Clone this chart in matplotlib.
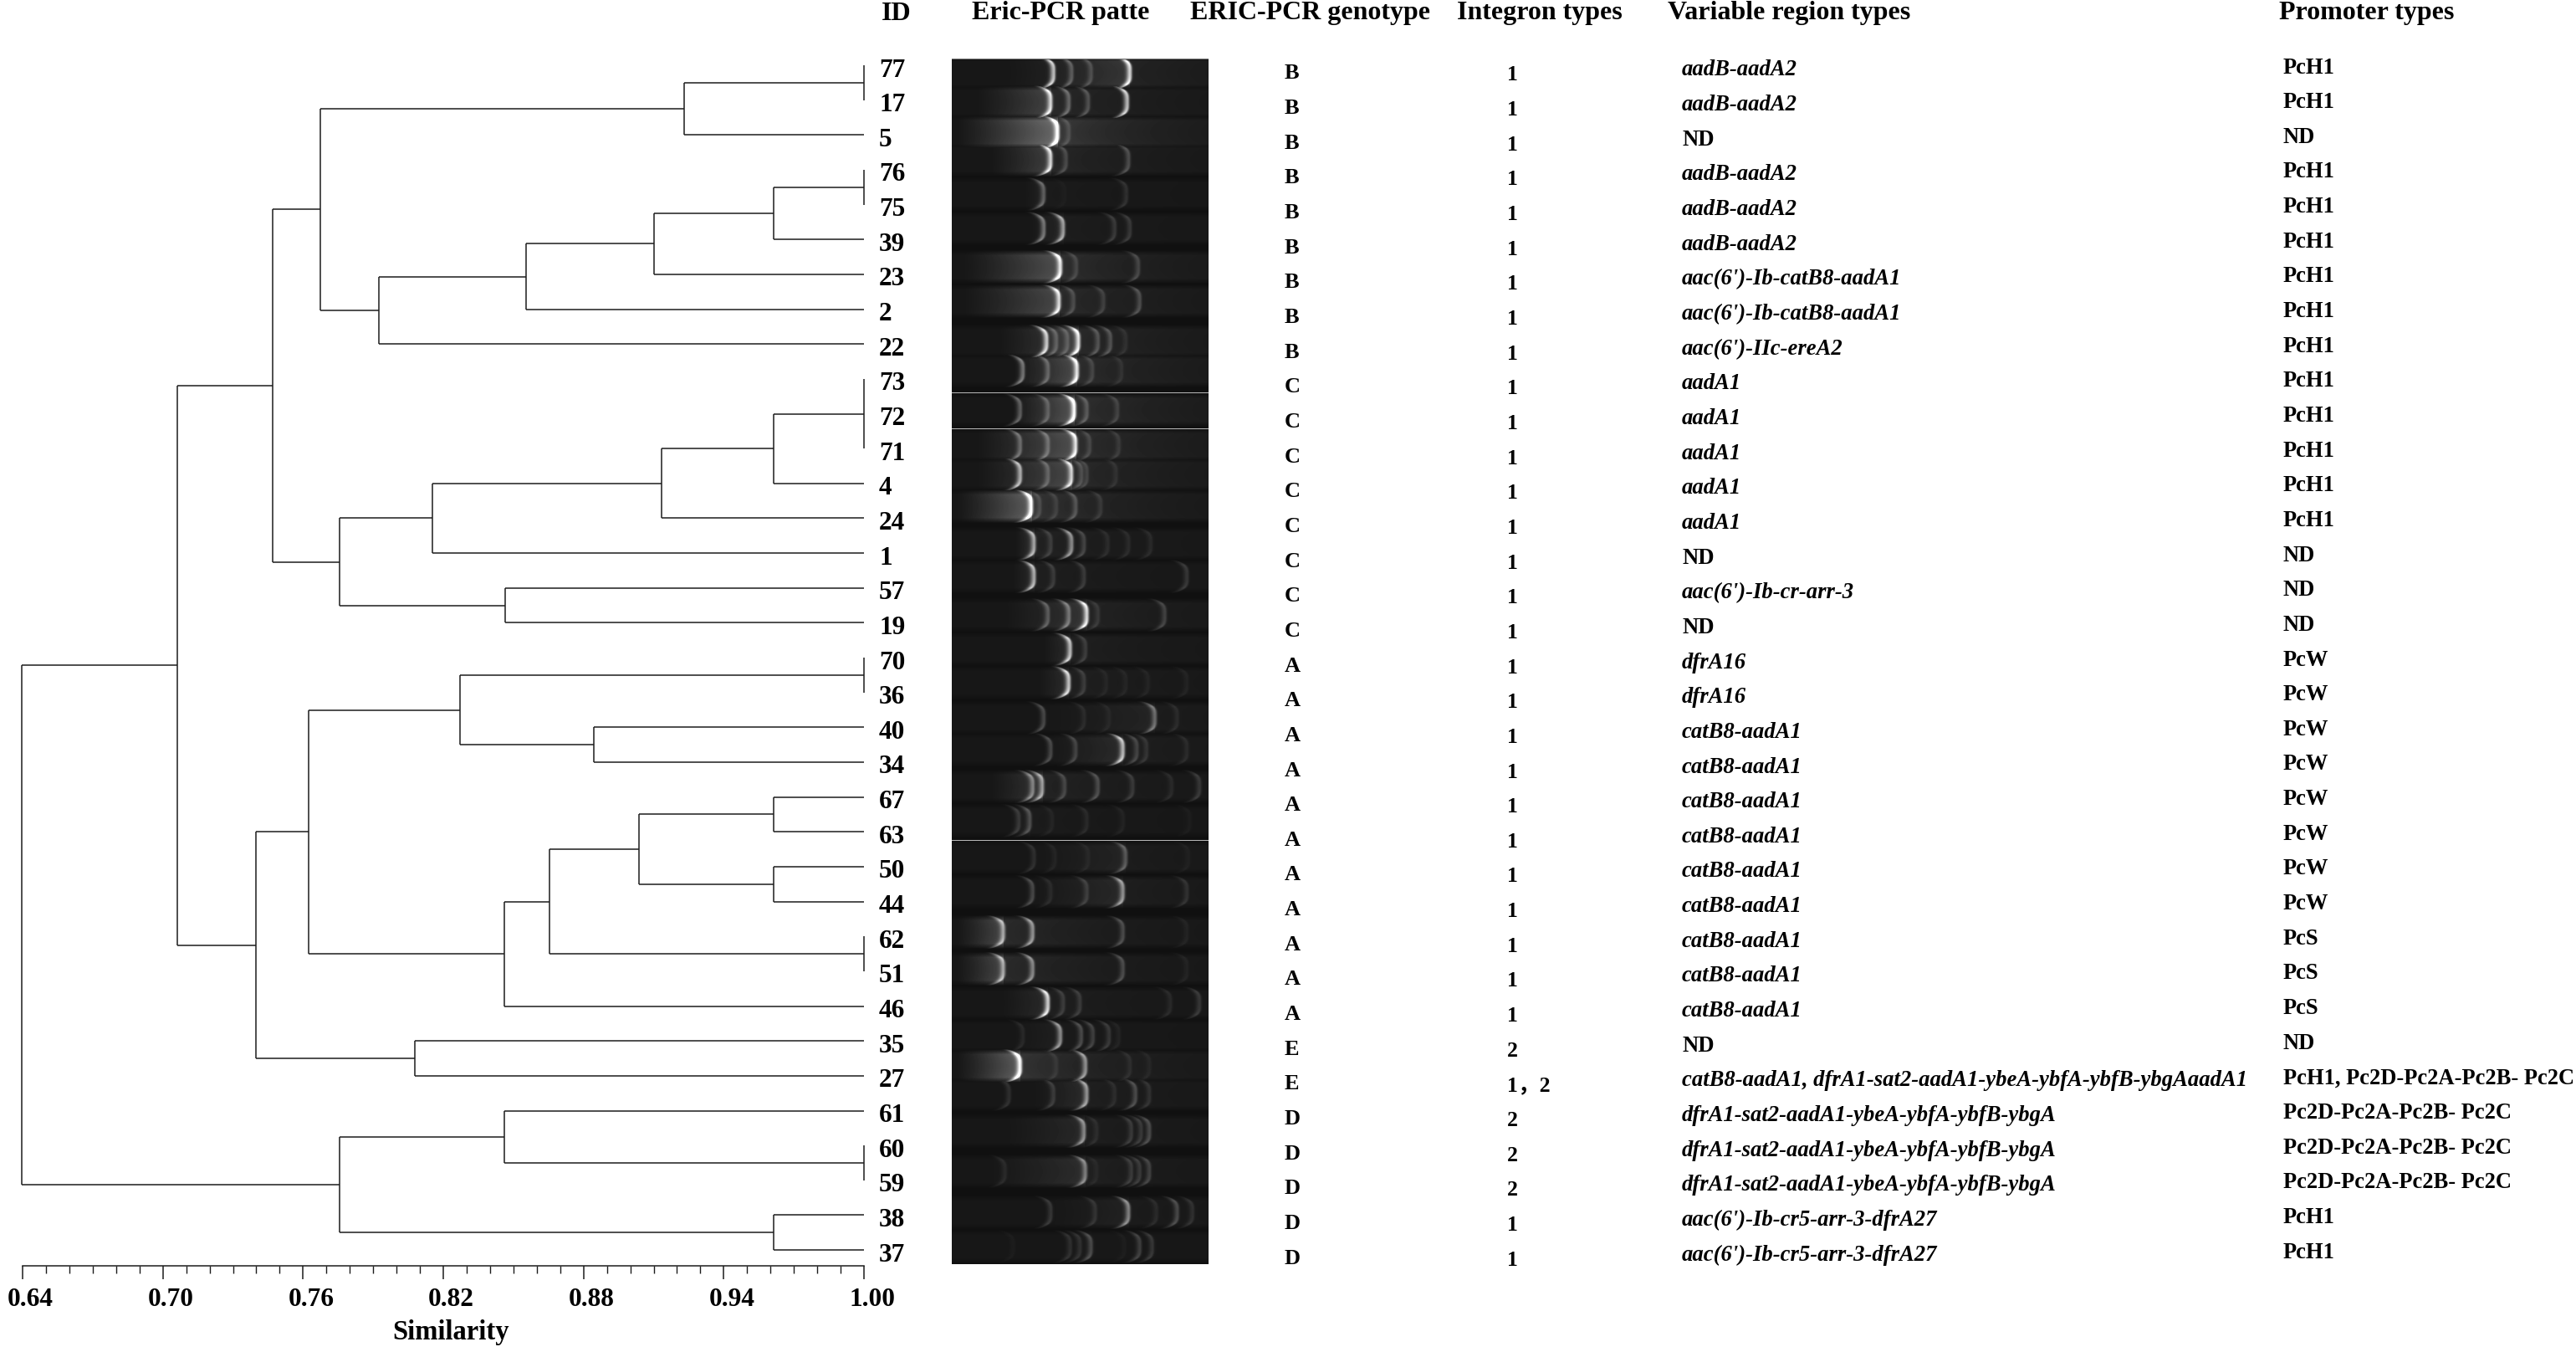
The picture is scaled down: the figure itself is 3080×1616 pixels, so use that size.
import matplotlib
matplotlib.use('Agg')
import matplotlib.pyplot as plt
import numpy as np
from matplotlib.transforms import ScaledTranslation

plt.rcParams['font.family'] = ['Liberation Serif', 'Noto Sans CJK SC']
plt.rcParams['font.weight'] = 'bold'

W, H = 3080, 1616

# rows of the table, top to bottom
ids = ['77', '17', '5', '76', '75', '39', '23', '2', '22', '73', '72', '71', '4', '24', '1', '57', '19',
       '70', '36', '40', '34', '67', '63', '50', '44', '62', '51', '46', '35', '27', '61', '60', '59', '38', '37']
genotypes = list('BBBBBBBBB') + list('CCCCCCCC') + list('AAAAAAAAAAA') + list('EE') + list('DDDDD')
integrons = ['1'] * 28 + ['2', '1，2', '2', '2', '2', '1', '1']
cat = 'catB8-aadA1'
dfr = 'dfrA1-sat2-aadA1-ybeA-ybfA-ybfB-ybgA'
variable = ['aadB-aadA2', 'aadB-aadA2', 'ND', 'aadB-aadA2', 'aadB-aadA2', 'aadB-aadA2',
            "aac(6')-Ib-catB8-aadA1", "aac(6')-Ib-catB8-aadA1", "aac(6')-IIc-ereA2",
            'aadA1', 'aadA1', 'aadA1', 'aadA1', 'aadA1', 'ND', "aac(6')-Ib-cr-arr-3", 'ND',
            'dfrA16', 'dfrA16', cat, cat, cat, cat, cat, cat, cat, cat, cat, 'ND',
            'catB8-aadA1, dfrA1-sat2-aadA1-ybeA-ybfA-ybfB-ybgAaadA1', dfr, dfr, dfr,
            "aac(6')-Ib-cr5-arr-3-dfrA27", "aac(6')-Ib-cr5-arr-3-dfrA27"]
pc2 = 'Pc2D-Pc2A-Pc2B- Pc2C'
promoters = ['PcH1', 'PcH1', 'ND', 'PcH1', 'PcH1', 'PcH1', 'PcH1', 'PcH1', 'PcH1',
             'PcH1', 'PcH1', 'PcH1', 'PcH1', 'PcH1', 'ND', 'ND', 'ND',
             'PcW', 'PcW', 'PcW', 'PcW', 'PcW', 'PcW', 'PcW', 'PcW', 'PcS', 'PcS', 'PcS', 'ND',
             'PcH1, ' + pc2, pc2, pc2, pc2, 'PcH1', 'PcH1']
headers = ['ID', 'Eric-PCR patte', 'ERIC-PCR genotype', 'Integron types', 'Variable region types', 'Promoter types']

# dendrogram merges: children are leaf rows (int) or earlier merges ('n3'), with similarity of the join
merge_children = [
    [0, 1], ['n0', 2],
    [3, 4], ['n2', 5], ['n3', 6], ['n4', 7], ['n5', 8], ['n1', 'n6'],
    [9, 11], ['n8', 12], ['n9', 13], ['n10', 14], [15, 16], ['n11', 'n12'], ['n7', 'n13'],
    [17, 18], [19, 20], ['n15', 'n16'],
    [21, 22], [23, 24], ['n18', 'n19'], [25, 26], ['n20', 'n21'], ['n22', 27], ['n17', 'n23'],
    [28, 29], ['n24', 'n25'], ['n14', 'n26'],
    [31, 32], [30, 'n28'], [33, 34], ['n29', 'n30'], ['n27', 'n31'],
]
merge_sim = [
    1.0, 0.9229,
    1.0, 0.9613, 0.9101, 0.8556, 0.7924, 0.7673,
    1.0, 0.9613, 0.9134, 0.8155, 0.8464, 0.7758, 0.7469,
    1.0, 0.8845, 0.8270,
    0.9613, 0.9613, 0.9036, 1.0, 0.8654, 0.8461, 0.7625,
    0.8077, 0.7399, 0.7063,
    1.0, 0.8461, 0.9613, 0.7758, 0.6395,
]

# gel lanes: band position along the lane and brightness
lane_bands = [
    [(480, .9), (545, .45), (615, .35), (755, .95)],
    [(470, .9), (535, .5), (605, .4), (745, .9)],
    [(495, 1.0), (535, .3)],
    [(470, .9), (525, .35), (750, .4)],
    [(445, .5), (520, .08), (742, .25)],
    [(445, .6), (515, .75), (700, .3), (755, .3)],
    [(505, .95), (562, .3), (785, .35)],
    [(500, .9), (552, .35), (660, .3), (790, .4)],
    [(455, .9), (490, .4), (530, .35), (570, .95), (640, .4), (685, .4), (740, .2)],
    [(370, .6), (460, .45), (565, .95), (620, .3), (725, .2)],
    [(360, .5), (460, .4), (555, 1.0), (600, .4), (710, .3)],
    [(360, .5), (460, .45), (560, .9), (610, .3), (715, .25)],
    [(360, .8), (460, .4), (545, .85), (580, .35), (600, .3), (705, .2)],
    [(400, 1.0), (430, .3), (490, .25), (560, .4), (650, .25)],
    [(410, .75), (470, .3), (545, .7), (590, .35), (675, .2), (750, .2), (830, .2)],
    [(410, .8), (480, .3), (590, .3), (960, .3)],
    [(460, .45), (535, .55), (600, .95), (640, .25), (880, .35)],
    [(540, .85), (595, .3)],
    [(535, .9), (590, .3), (670, .15), (740, .15), (820, .15), (960, .15)],
    [(445, .4), (590, .2), (680, .15), (845, .55), (925, .2)],
    [(470, .4), (560, .35), (730, .85), (780, .35), (815, .25), (960, .2)],
    [(405, .6), (440, .7), (520, .35), (640, .4), (765, .3), (905, .2), (1005, .3)],
    [(355, .3), (395, .4), (475, .15), (600, .2), (730, .15), (970, .1)],
    [(410, .25), (485, .15), (605, .15), (740, .45), (965, .12)],
    [(405, .4), (470, .2), (600, .3), (730, .7), (960, .25)],
    [(300, .7), (405, .7), (730, .4), (960, .15)],
    [(300, .7), (405, .65), (730, .4), (960, .15)],
    [(460, .95), (515, .3), (575, .3), (900, .2), (1005, .3)],
    [(370, .2), (505, .7), (580, .4), (622, .35), (680, .3), (715, .15)],
    [(360, 1.0), (490, .2), (595, .7), (755, .2), (825, .15)],
    [(320, .25), (480, .3), (600, .7), (700, .2), (775, .4), (825, .25)],
    [(590, .65), (635, .2), (760, .3), (795, .3), (825, .4)],
    [(305, .2), (595, .6), (635, .15), (760, .3), (790, .3), (825, .35)],
    [(470, .3), (630, .25), (750, .65), (850, .2), (925, .4), (980, .25)],
    [(335, .1), (540, .25), (575, .25), (615, .4), (735, .1), (790, .35), (835, .3)],
]
lane_smear_start = [300, 200, 130, 250, 370, 380, 150, 150, 280, 330, 330, 200, 200, 130, 340, 330, 300,
                    440, 420, 420, 440, 250, 320, 380, 370, 130, 130, 290, 330, 130, 400, 300, 240, 450, 500]
lane_smear_level = [.14, .2, .38, .18, .05, .07, .26, .22, .2, .24, .28, .26, .22, .32, .13, .09, .14,
                    .1, .1, .06, .09, .14, .05, .06, .08, .22, .22, .09, .04, .32, .09, .08, .1, .05, .02]
lane_centre = [87, 122, 158, 191, 232, 273, 319, 360, 408, 443, 490, 532, 567, 605, 650, 689, 735, 776,
               816, 858, 896, 940, 981, 1025, 1066, 1114, 1158, 1199, 1238, 1274, 1308, 1352, 1400, 1449, 1490]
gel_seams = [469, 512, 1004]

# pixel layout of the reference
row0 = 78
row_step = 41.65
axis_left, axis_right = 27, 1033
axis_y = 1513
top_px = 40


def box(x0, y0, x1, y1):
    return [x0 / W, 1 - y1 / H, (x1 - x0) / W, (y1 - y0) / H]


def put(x, y, s, size, ha='left', style='normal'):
    fig.text(x / W, 1 - y / H, s, fontsize=size, ha=ha, va='center', style=style, color='black')


fig = plt.figure(figsize=(W / 100, H / 100), dpi=100, facecolor='white')

# dendrogram
ax = fig.add_axes(box(axis_left, top_px, axis_right, axis_y))
ax.set_xlim(0.64, 1.0)
ax.set_ylim((axis_y - row0) / row_step, (top_px - row0) / row_step)
line = dict(color='#1c1c1c', lw=1.1, solid_capstyle='butt', clip_on=False)
nodes = {}
for i, (kids, sim) in enumerate(zip(merge_children, merge_sim)):
    ys = []
    for k in kids:
        if isinstance(k, int):
            y_k, x_k = k, 1.0
        else:
            y_k, x_k = nodes[k]
        ax.plot([sim, x_k], [y_k, y_k], **line)
        ys.append(y_k)
    ax.plot([sim, sim], [min(ys), max(ys)], **line)
    nodes['n%d' % i] = ((min(ys) + max(ys)) / 2, sim)

for s in ['top', 'left', 'right']:
    ax.spines[s].set_visible(False)
ax.spines['bottom'].set_linewidth(1.1)
ax.spines['bottom'].set_color('#1c1c1c')
ax.patch.set_alpha(0)
ax.set_yticks([])
major = [0.64, 0.70, 0.76, 0.82, 0.88, 0.94, 1.00]
minor = [0.64 + 0.01 * i for i in range(37)]
ax.set_xticks(major, ['%.2f' % m for m in major])
ax.set_xticks(minor, minor=True)
ax.tick_params(axis='x', which='major', length=11.5, width=1.1, color='#1c1c1c', labelsize=22.6, pad=7)
ax.tick_params(axis='x', which='minor', length=6.5, width=1.0, color='#1c1c1c')
for lab in ax.get_xticklabels():
    lab.set_transform(lab.get_transform() + ScaledTranslation(0.095, 0, fig.dpi_scale_trans))
put(539, 1592, 'Similarity', 23.5, ha='center')

# gel image, painted from the band table
gel_x0, gel_x1, gel_y0, gel_y1 = 1138, 1445, 70, 1511
xs = np.linspace(114, 1035, gel_x1 - gel_x0)
ys = np.arange(gel_y0, gel_y1) + 0.5
gel = np.full((len(ys), len(xs)), 0.065)
for yc, bands, start, level in zip(lane_centre, lane_bands, lane_smear_start, lane_smear_level):
    t = (ys - yc) / 16.0
    rows = np.where(np.abs(t) < 1.25)[0]
    for r in rows:
        tt = t[r]
        edge = np.clip((1.25 - abs(tt)) / 0.4, 0, 1)
        val = np.full(len(xs), 0.09)
        peak = max(bands, key=lambda b: b[1])[0]
        ramp = np.clip((xs - start) / max(peak - start, 1), 0, 1) ** 1.2
        tail = 0.4 * np.exp(-np.clip(xs - peak, 0, None) / 300.0)
        val += level * np.where(xs < peak, ramp, tail) * (0.85 + 0.15 * tt ** 2)
        for pos, strength in bands:
            arc = pos - 22 * tt ** 4
            dx = xs - arc
            width = np.where(dx < 0, 13.0, 6.5)
            val += strength ** 1.5 * 0.85 * np.exp(-(dx / width) ** 2) * (0.8 + 0.3 * tt ** 2)
        gel[r] = np.maximum(gel[r], 0.065 + (val - 0.065) * edge)
for seam in gel_seams:
    gel[seam - gel_y0] = 0.72
gel[0] = 0.45

gx = fig.add_axes(box(gel_x0, gel_y0, gel_x1, gel_y1))
gx.imshow(gel, cmap='gray', vmin=0, vmax=1, aspect='auto', interpolation='bilinear')
gx.axis('off')

# table columns
header_x = [1054, 1162, 1423, 1742, 1994, 2725]
for x, h in zip(header_x, headers):
    put(x, 16, h, 23)
for i in range(len(ids)):
    put(1051, row0 + 6 + i * row_step, ids[i], 22.5)
    put(1536, row0 + 10 + i * row_step, genotypes[i], 19)
    put(1802, row0 + 12 + i * row_step, integrons[i], 18.5)
    style = 'normal' if variable[i] == 'ND' else 'italic'
    put(2011, row0 + 6 + i * row_step, variable[i], 19.2, style=style)
    put(2730, row0 + 3 + i * row_step, promoters[i], 19.1)

fig.savefig('out.png', dpi=100)
